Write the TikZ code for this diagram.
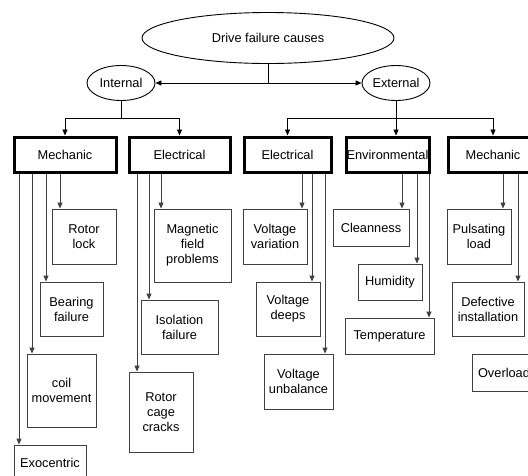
\documentclass[tikz,border=0pt]{standalone}
\usepackage{fontspec}
\setmainfont{Liberation Sans}
\usetikzlibrary{arrows.meta,shapes.geometric}

\begin{document}
\begin{tikzpicture}[x=1pt,y=-1pt,font=\fontsize{12.8}{15}\selectfont,
    oval/.style={ellipse,draw,line width=0.9pt,inner sep=0pt},
    head/.style={draw,line width=3pt,inner sep=0pt,minimum height=35pt},
    leaf/.style={draw=black!75,line width=0.9pt,inner sep=0pt,align=center},
    tip/.style={-{Triangle[length=6pt,width=5pt]}},
    arr/.style={draw=black!75,line width=0.9pt,tip}]
    \useasboundingbox (0,0) rectangle (528,475);
    \clip (0,0) rectangle (528,475);
    %% top of the tree
    \node[oval,minimum width=252pt,minimum height=51pt] (root) at (268,38) {Drive failure causes};
    \node[oval,minimum width=68pt,minimum height=35pt] (int) at (121,83) {Internal};
    \node[oval,minimum width=68pt,minimum height=35pt] (ext) at (396,83) {External};
    \draw[line width=0.9pt] (root.south) -- (root.south |- int.east);
    \draw[line width=0.9pt,{Triangle[length=6pt,width=5pt]}-{Triangle[length=6pt,width=5pt]}] (int.east) -- (ext.west);
    %% groups
    \node[head,minimum width=102pt] (imech) at (65,154.5) {Mechanic};
    \node[head,minimum width=101pt] (ielec) at (179.5,154.5) {Electrical};
    \node[head,minimum width=87pt] (eelec) at (287.5,154.5) {Electrical};
    \node[head,minimum width=83pt] (eenv) at (387.5,154.5) {Environmental};
    \node[head,minimum width=90pt] (emech) at (493,154.5) {Mechanic};
    \draw[line width=0.9pt] (int.south) -- (121,118) coordinate (ibus);
    \draw[line width=0.9pt] (imech.north |- ibus) -- (ielec.north |- ibus);
    \draw[line width=0.9pt,tip] (imech.north |- ibus) -- (imech.north);
    \draw[line width=0.9pt,tip] (ielec.north |- ibus) -- (ielec.north);
    \draw[line width=0.9pt,tip] (ext.south) -- (ext.south |- eenv.north);
    \coordinate (ebus) at (396,118);
    \draw[line width=0.9pt] (eelec.north |- ebus) -- (emech.north |- ebus);
    \draw[line width=0.9pt,tip] (eelec.north |- ebus) -- (eelec.north);
    \draw[line width=0.9pt,tip] (emech.north |- ebus) -- (emech.north);
    %% causes
    \foreach \n/\xa/\xb/\ya/\yb/\t in {
        rotorlock/52/116/209/264/{Rotor\\lock}, bearing/40/103/282/336/{Bearing\\failure},
        coil/27/96/354/427/{coil\\movement}, exo/14/86/445/480/{Exocentric},
        magnetic/154/231/209/282/{Magnetic\\field\\problems}, isolation/141/218/300/354/{Isolation\\failure},
        cage/129/193/372/452/{Rotor\\cage\\cracks},
        vvar/243/307/209/264/{Voltage\\variation}, vdeep/256/320/282/336/{Voltage\\deeps},
        vunb/264/333/354/409/{Voltage\\unbalance},
        clean/333/409/209/246/{Cleanness}, humid/358/422/264/300/{Humidity},
        temp/345/434/318/354/{Temperature},
        pulse/447/511/209/264/{Pulsating\\load}, defect/452/524/282/336/{Defective\\installation},
        overload/472/536/354/391/{Overload}}
        \node[leaf,minimum width=\xb pt-\xa pt,minimum height=\yb pt-\ya pt]
            (\n) at ({(\xa+\xb)/2},{(\ya+\yb)/2}) {\t};
    \foreach \p/\c/\x in {imech/rotorlock/60, imech/bearing/46, imech/coil/32, imech/exo/19,
        ielec/magnetic/161, ielec/isolation/149, ielec/cage/137,
        eelec/vvar/302, eelec/vdeep/312, eelec/vunb/325,
        eenv/clean/402, eenv/humid/417, eenv/temp/429,
        emech/pulse/503, emech/defect/518}
        \draw[arr] (\p.south -| \x,0) -- (\c.north -| \x,0);
\end{tikzpicture}
\end{document}
